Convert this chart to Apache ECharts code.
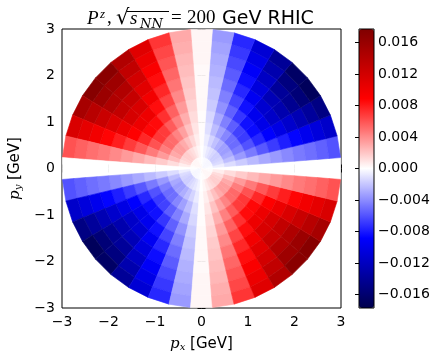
<!DOCTYPE html>
<html>
<head>
<meta charset="utf-8">
<script src="https://cdn.jsdelivr.net/npm/echarts@6/dist/echarts.min.js"></script>
<style>
  html, body { margin: 0; padding: 0; background: #fff; }
  #chart { width: 439px; height: 351px; }
</style>
</head>
<body>
<div id="chart"></div>
<script>
// azimuthal bins: 40 bins of 9 degrees, bin k centred on k*9 deg
const ANGLE_STEP = 9;
// radial bin edges in GeV (12 rings)
const RING_EDGES = [0, 0.25, 0.5, 0.75, 1.0, 1.25, 1.5, 1.75, 2.0, 2.25, 2.5, 2.75, 3.0];
const AXIS_TICKS = [-3, -2, -1, 0, 1, 2, 3];
const CBAR_TICKS = [-0.016, -0.012, -0.008, -0.004, 0, 0.004, 0.008, 0.012, 0.016];
const CBAR_MIN = -0.0177;
const CBAR_MAX = 0.0177;

// P^z in units of 1e-3, upper half plane.
// rows: phi = 0, 9, ..., 171 deg ; columns: rings from centre outwards.
// the lower half repeats it (phi + 180 deg gives the same cell value)
const PZ_UPPER = [
  [ 0.0,  0.0,  0.0,  0.0,  0.0,  0.0,  0.0,   0.0,   0.0,   0.0,   0.0,   0.0],
  [-0.1, -0.6, -1.2, -1.8, -2.4, -3.0, -3.5,  -4.1,  -4.6,  -5.0,  -5.5,  -6.0],
  [-0.2, -1.2, -2.3, -3.5, -4.6, -5.8, -6.8,  -7.8,  -8.7,  -9.7, -10.6, -11.5],
  [-0.3, -1.5, -3.0, -4.5, -6.0, -7.5, -8.9, -10.2, -11.4, -12.6, -13.8, -15.0],
  [-0.3, -1.7, -3.4, -5.1, -6.8, -8.5, -10.0, -11.6, -12.9, -14.3, -15.6, -17.0],
  [-0.3, -1.7, -3.3, -5.0, -6.6, -8.3, -9.7, -11.2, -12.5, -13.9, -15.2, -16.5],
  [-0.3, -1.4, -2.8, -4.2, -5.6, -7.0, -8.3,  -9.5, -10.6, -11.8, -12.9, -14.0],
  [-0.2, -1.1, -2.2, -3.3, -4.4, -5.5, -6.5,  -7.5,  -8.4,  -9.2, -10.1, -11.0],
  [-0.2, -0.8, -1.5, -2.3, -3.0, -3.8, -4.4,  -5.1,  -5.7,  -6.3,  -6.9,  -7.5],
  [-0.1, -0.4, -0.7, -1.1, -1.4, -1.8, -2.1,  -2.4,  -2.7,  -2.9,  -3.2,  -3.5],
  [ 0.0,  0.0,  0.1,  0.1,  0.1,  0.2,  0.2,   0.2,   0.2,   0.3,   0.3,   0.3],
  [ 0.1,  0.3,  0.6,  0.9,  1.2,  1.5,  1.8,   2.0,   2.3,   2.5,   2.8,   3.0],
  [ 0.1,  0.7,  1.4,  2.1,  2.8,  3.5,  4.1,   4.8,   5.3,   5.9,   6.4,   7.0],
  [ 0.2,  1.1,  2.2,  3.3,  4.4,  5.5,  6.5,   7.5,   8.4,   9.2,  10.1,  11.0],
  [ 0.3,  1.4,  2.9,  4.3,  5.7,  7.2,  8.4,   9.7,  10.9,  12.0,  13.2,  14.3],
  [ 0.3,  1.7,  3.4,  5.1,  6.8,  8.5, 10.0,  11.6,  12.9,  14.3,  15.6,  17.0],
  [ 0.3,  1.7,  3.4,  5.2,  6.9,  8.6, 10.1,  11.7,  13.1,  14.4,  15.8,  17.2],
  [ 0.3,  1.5,  3.0,  4.5,  6.0,  7.5,  8.9,  10.2,  11.4,  12.6,  13.8,  15.0],
  [ 0.2,  1.2,  2.3,  3.5,  4.6,  5.8,  6.8,   7.8,   8.7,   9.7,  10.6,  11.5],
  [ 0.1,  0.6,  1.2,  1.8,  2.4,  3.0,  3.5,   4.1,   4.6,   5.0,   5.5,   6.0]
];

// matplotlib "seismic"
const SEISMIC = ['#00004d', '#0000ff', '#ffffff', '#ff0000', '#800000'];

const cells = [];
const nAngle = 360 / ANGLE_STEP;
for (let k = 0; k < nAngle; k++) {
  const row = PZ_UPPER[k % PZ_UPPER.length];
  for (let j = 0; j < RING_EDGES.length - 1; j++) {
    cells.push([k, j, row[j] * 1e-3]);
  }
}

const minus = s => String(s).replace('-', '\u2212');

function renderCell(params, api) {
  const k = api.value(0);
  const j = api.value(1);
  const a0 = (k * ANGLE_STEP - ANGLE_STEP / 2) * Math.PI / 180;
  const a1 = (k * ANGLE_STEP + ANGLE_STEP / 2) * Math.PI / 180;
  const r0 = RING_EDGES[j];
  const r1 = RING_EDGES[j + 1];
  const pts = [[r0, a0], [r1, a0], [r1, a1], [r0, a1]].map(
    ([r, a]) => api.coord([r * Math.cos(a), r * Math.sin(a)])
  );
  const c = api.visual('color');
  return { type: 'polygon', shape: { points: pts }, style: { fill: c, stroke: c, lineWidth: 0.6 } };
}

const chart = echarts.init(document.getElementById('chart'));

const tickFont = { fontFamily: 'DejaVu Sans', fontSize: 14, color: '#000' };
const nameRich = {
  i: { fontFamily: 'DejaVu Serif', fontStyle: 'italic', fontSize: 15, color: '#000' },
  sub: { fontFamily: 'DejaVu Serif', fontStyle: 'italic', fontSize: 10, color: '#000', verticalAlign: 'bottom', padding: [6, 0, 0, 0] },
  n: { fontFamily: 'DejaVu Sans', fontSize: 15, color: '#000' }
};

const mainX = { min: -3, max: 3, interval: 1 };
const mainY = { min: -3, max: 3, interval: 1 };
const tickStyle = { inside: true, length: 4, lineStyle: { color: '#000', width: 1 } };

// title pieces (mathtext look): [text, x, y(bottom), font]
const SERIF_I = 'italic 19px "Liberation Serif"';
const SERIF = '19px "Liberation Serif"';
const titleParts = [
  ['P', 87, 28, SERIF_I],
  ['z', 100, 21, 'italic 13px "Liberation Serif"'],
  [',', 107, 28, SERIF],
  ['\u221a', 116, 29, '21px "DejaVu Serif"'],
  ['s', 130, 28, SERIF_I],
  ['NN', 140, 31, 'italic 13px "DejaVu Serif"'],
  ['=', 171, 28, SERIF],
  ['200', 187, 28, SERIF],
  ['GeV RHIC', 222, 29, '19px "DejaVu Sans"']
];
const titleGraphics = titleParts.map(([t, x, y, font]) => ({
  type: 'text', x, y,
  style: { text: t, font, fill: '#000', verticalAlign: 'bottom', align: 'left' }
}));
// overline of the square root
titleGraphics.push({ type: 'line', shape: { x1: 127, y1: 11.5, x2: 169, y2: 11.5 }, style: { stroke: '#000', lineWidth: 1 } });

chart.setOption({
  animation: false,
  graphic: titleGraphics,
  grid: [
    { left: 62, top: 29, width: 279, height: 279, show: true, borderColor: '#000', borderWidth: 1, outerBoundsMode: 'none' },
    { left: 359, top: 29, width: 15, height: 279, show: true, borderColor: '#000', borderWidth: 1, z: 10, outerBoundsMode: 'none' }
  ],
  xAxis: [
    {
      gridIndex: 0, type: 'value', position: 'bottom', ...mainX,
      axisLine: { show: false }, splitLine: { show: false }, axisTick: tickStyle,
      axisLabel: { ...tickFont, margin: 7, formatter: v => minus(v), customValues: AXIS_TICKS },
      name: '{i|p}{sub|x}{n| [GeV]}', nameLocation: 'middle', nameGap: 28,
      nameTextStyle: { rich: nameRich }
    },
    {
      gridIndex: 0, type: 'value', position: 'top', ...mainX,
      axisLine: { show: false }, splitLine: { show: false }, axisTick: tickStyle, axisLabel: { show: false }
    },
    { gridIndex: 1, type: 'value', min: 0, max: 1, show: false }
  ],
  yAxis: [
    {
      gridIndex: 0, type: 'value', position: 'left', ...mainY,
      axisLine: { show: false }, splitLine: { show: false }, axisTick: tickStyle,
      axisLabel: { ...tickFont, margin: 7, formatter: v => minus(v), customValues: AXIS_TICKS },
      name: '{i|p}{sub|y}{n| [GeV]}', nameLocation: 'middle', nameGap: 35,
      nameTextStyle: { rich: nameRich }
    },
    {
      gridIndex: 0, type: 'value', position: 'right', ...mainY,
      axisLine: { show: false }, splitLine: { show: false }, axisTick: tickStyle, axisLabel: { show: false }
    },
    {
      gridIndex: 1, type: 'value', position: 'right', min: CBAR_MIN, max: CBAR_MAX,
      axisLine: { show: false }, splitLine: { show: false },
      axisTick: { ...tickStyle, customValues: CBAR_TICKS },
      axisLabel: { ...tickFont, margin: 4, customValues: CBAR_TICKS,
        formatter: v => (v < 0 ? '\u2212' : '') + Math.abs(v).toFixed(3) }
    }
  ],
  visualMap: {
    type: 'continuous',
    min: CBAR_MIN, max: CBAR_MAX,
    dimension: 2, seriesIndex: 0,
    inRange: { color: SEISMIC },
    left: 359, top: 29, itemWidth: 15, itemHeight: 279, padding: 0,
    calculable: false, hoverLink: false, text: null, z: 4
  },
  series: [{
    type: 'custom',
    xAxisIndex: 0, yAxisIndex: 0,
    renderItem: renderCell,
    data: cells,
    silent: true
  }]
});
</script>
</body>
</html>
